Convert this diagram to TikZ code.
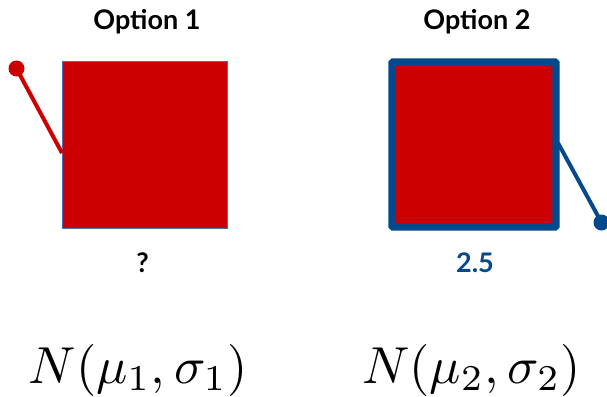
\documentclass[tikz,border=0pt]{standalone}
\usepackage{graphicx}
\usepackage{fontspec}
\setsansfont{Lato}
\definecolor{mred}{RGB}{204,0,0}
\definecolor{mblue}{RGB}{3,73,140}
\definecolor{thinblue}{RGB}{80,110,180}
\begin{document}
\begin{tikzpicture}[x=1pt,y=-1pt,
  title/.style={font=\sffamily\bfseries\fontsize{27}{30}\selectfont, anchor=base, inner sep=0},
  val/.style={font=\sffamily\bfseries\fontsize{27}{30}\selectfont, anchor=base, inner sep=0},
  formula/.style={anchor=base, inner sep=0},
  redbox/.style={rectangle, fill=mred, inner sep=0, outer sep=0},
  pin/.style={circle, inner sep=0, minimum size=16pt},
]
\useasboundingbox (0,0) rectangle (607,396);

\node[title] (t1) at (147,30) {Option 1};
\node[title] (t2) at (477,30) {Option 2};

\node[redbox, draw=thinblue, line width=0.8pt, minimum width=165pt, minimum height=167pt] (box1) at (144.5,144.5) {};
\node[redbox, draw=mblue, line width=7.3pt, rounded corners=1pt, minimum width=164pt, minimum height=165pt] (box2) at (474,144.5) {};

\node[pin, fill=mred] (dot1) at (16.5,68.5) {};
\draw[mred, line width=4pt] (dot1.center) -- ([yshift=-8.5pt]box1.west);

\node[pin, fill=mblue] (dot2) at (601.5,222.5) {};
\draw[mblue, line width=4pt] ([xshift=2pt,yshift=1.5pt]box2.east) -- (dot2.center);

\node[val] (q) at (142.5,272) {?};
\node[val, text=mblue] (v) at (475,272) {2.5};

\node[formula] (f1) at (138,383) {\scalebox{5.2}{$N(\mu_1,\sigma_1)$}};
\node[formula] (f2) at (471.5,383) {\scalebox{5.2}{$N(\mu_2,\sigma_2)$}};
\end{tikzpicture}
\end{document}
